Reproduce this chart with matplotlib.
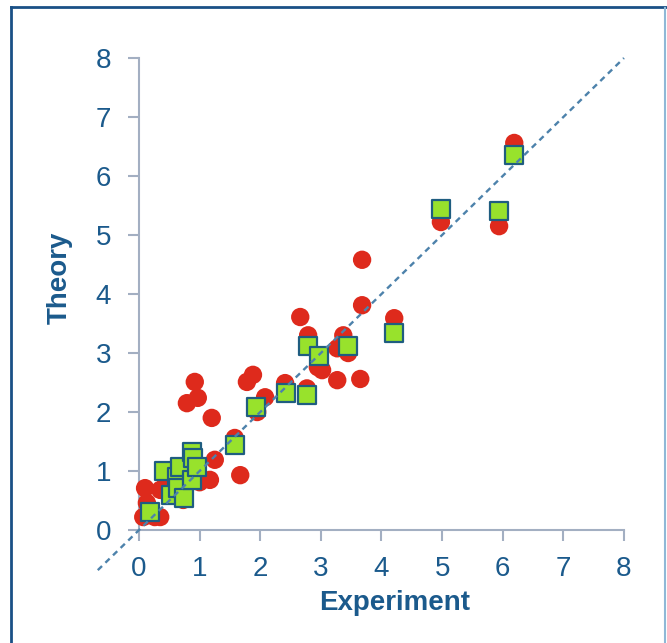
import matplotlib.pyplot as plt
from matplotlib.lines import Line2D

# ==============================
# Data
# ==============================

red_x = [0.10, 0.13, 0.07, 0.26, 0.35, 0.35, 0.43, 0.64, 0.73, 0.79,
         0.92, 0.97, 0.96, 1.00, 1.20, 1.25, 1.17, 1.58, 1.67, 1.78,
         1.88, 1.95, 2.08, 2.41, 2.77, 2.66, 2.79, 2.95, 3.02, 3.27,
         3.27, 3.37, 3.45, 3.65, 3.68, 3.68, 4.21, 4.98, 5.94, 6.19]
red_y = [0.71, 0.46, 0.22, 0.22, 0.22, 0.68, 0.90, 0.73, 0.51, 2.15,
         2.51, 2.24, 0.85, 0.81, 1.90, 1.19, 0.85, 1.56, 0.93, 2.51,
         2.63, 2.00, 2.25, 2.49, 2.40, 3.61, 3.30, 2.76, 2.71, 3.08,
         2.54, 3.30, 3.00, 2.56, 3.81, 4.58, 3.59, 5.22, 5.15, 6.56]

green_x = [0.18, 0.41, 0.53, 0.63, 0.68, 0.64, 0.74, 0.87, 0.88, 0.89, 0.95,
           1.58, 1.93, 2.42, 2.77, 2.79, 2.97, 3.45, 4.21, 4.98, 5.94, 6.19]
green_y = [0.31, 1.00, 0.59, 0.90, 1.07, 0.71, 0.54, 0.85, 1.32, 1.22, 1.07,
           1.44, 2.09, 2.32, 2.29, 3.12, 2.95, 3.12, 3.34, 5.44, 5.41, 6.36]

ticks = [0, 1, 2, 3, 4, 5, 6, 7, 8]
diag = [-0.68, 8]

# ==============================
# Style
# ==============================

plt.rcParams["font.family"] = ["Liberation Sans", "DejaVu Sans"]

text_color = "#1b5a8c"
axis_color = "#a3afc2"

fig = plt.figure(figsize=(6.67, 6.43), dpi=100)
ax = fig.add_axes([0.2084, 0.1757, 0.7271, 0.7341])

# ==============================
# Points and diagonal
# ==============================

ax.scatter(red_x, red_y, s=175, color="#de2a1c", edgecolors="none",
           zorder=3, clip_on=False)
ax.scatter(green_x, green_y, s=155, marker="s", color="#98e22c",
           edgecolors="#1f5d80", linewidths=1.6, zorder=4, clip_on=False)
ax.plot(diag, diag, linestyle=(0, (2.5, 2)), color="#4d82ab", linewidth=1.7,
        zorder=5, clip_on=False)

# ==============================
# Axes
# ==============================

ax.set_xlim(0, 8)
ax.set_ylim(0, 8)
ax.set_xticks(ticks)
ax.set_yticks(ticks)

for side in ["top", "right"]:
    ax.spines[side].set_visible(False)
for side in ["left", "bottom"]:
    ax.spines[side].set_color(axis_color)
    ax.spines[side].set_linewidth(1.5)

ax.tick_params(direction="out", length=8, width=1.5, color=axis_color,
               labelcolor=text_color, labelsize=20)
ax.tick_params(axis="y", pad=12)
ax.tick_params(axis="x", pad=11)

ax.set_xlabel("Experiment", fontsize=20, fontweight="bold", color=text_color)
ax.set_ylabel("Theory", fontsize=20, fontweight="bold", color=text_color)
ax.xaxis.set_label_coords(0.528, -0.128)
ax.yaxis.set_label_coords(-0.136, 0.534)

# ==============================
# Outer frame
# ==============================

fig.add_artist(Line2D([0.0172, 0.0172], [0, 0.989], color="#1a5086", linewidth=2))
fig.add_artist(Line2D([0.0172, 1], [0.989, 0.989], color="#1a5086", linewidth=2))
fig.add_artist(Line2D([0.997, 0.997], [0, 0.987], color="#8fb8d6", linewidth=1.5))

plt.savefig("out.png", dpi=100)
plt.close()
